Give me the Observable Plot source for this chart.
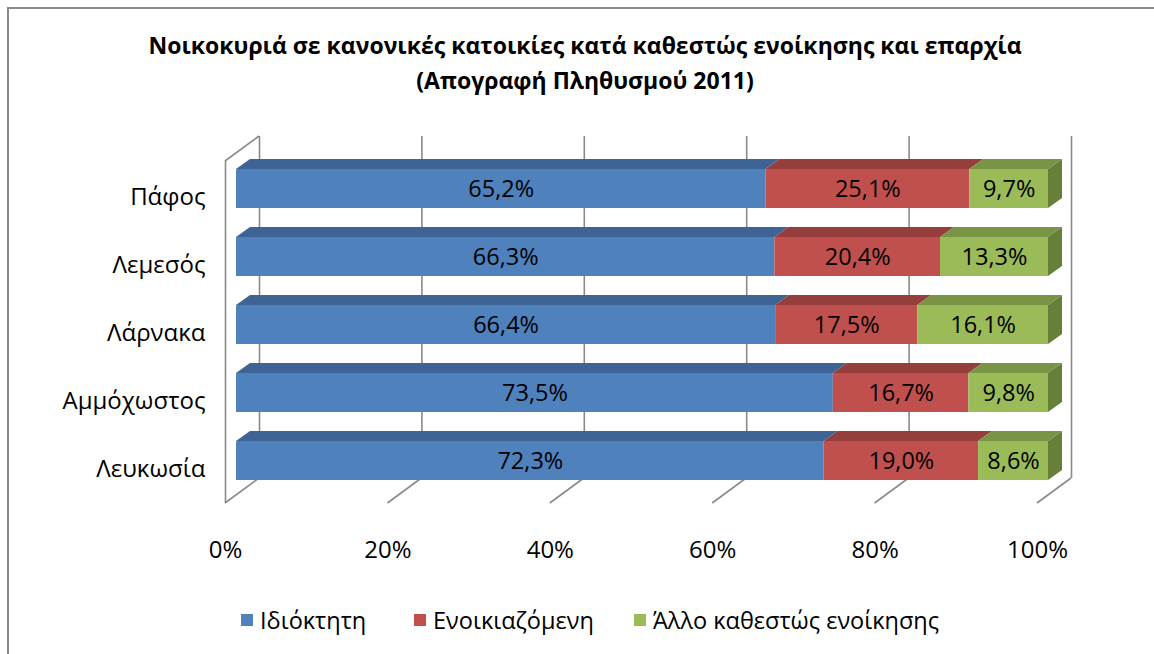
<!DOCTYPE html>
<html><head><meta charset="utf-8">
<script src="https://cdn.jsdelivr.net/npm/d3@7"></script>
<script src="https://cdn.jsdelivr.net/npm/@observablehq/plot@0.6"></script>
<style>
body{margin:0;background:#fff;font-family:"Open Sans",sans-serif;}
#wrap{position:relative;width:1154px;height:654px;overflow:hidden;}
#chart{position:absolute;left:0;top:0;}
#frameTop{position:absolute;left:8px;top:7px;width:1146px;height:0;border-top:2px solid #8a8a8a;}
#frameLeft{position:absolute;left:7px;top:7px;width:0;height:647px;border-left:2px solid #8a8a8a;}
#title{position:absolute;left:0;width:1170px;top:28px;text-align:center;font-weight:bold;font-size:23px;line-height:35px;color:#000;}
.lg{position:absolute;top:606px;height:28px;display:flex;align-items:center;font-size:23.5px;color:#000;white-space:nowrap;}
.lg span.sw{display:inline-block;width:12px;height:12px;margin-right:7px;}
</style></head><body>
<div id="wrap">
<div id="chart"></div>
<div id="frameTop"></div><div id="frameLeft"></div>
<div id="title">Νοικοκυριά σε κανονικές κατοικίες κατά καθεστώς ενοίκησης και επαρχία<br>(Απογραφή Πληθυσμού 2011)</div>
<div id="legend"></div>
</div>
<script>
// ---- data ----
const provinces = ["Πάφος","Λεμεσός","Λάρνακα","Αμμόχωστος","Λευκωσία"];
const series = ["Ιδιόκτητη","Ενοικιαζόμενη","Άλλο καθεστώς ενοίκησης"];
const owned  = [65.2, 66.3, 66.4, 73.5, 72.3];
const rented = [25.1, 20.4, 17.5, 16.7, 19.0];
const other  = [9.7, 13.3, 16.1, 9.8, 8.6];
const xTicks = [0, 0.2, 0.4, 0.6, 0.8, 1];
const xTickLabels = ["0%","20%","40%","60%","80%","100%"];

// ---- style ----
const colors = ["#4F81BD","#C0504D","#9BBB59"];
const topColors = ["#3E6495","#953E3C","#7A9446"];
const sideColors = ["#345480","#7E3331","#66803A"];
const GRID = "#8a8a8a";
const W = 1154, H = 654;
const M = {left:236, right:106, top:153, bottom:159};
const FX = -11, FY = 8;   // front wall plane offset
const BX = 23, BY = -17;  // back wall plane offset
const DX = 14, DY = -10;  // bar depth

const valuesBySeries = [owned, rented, other];
const rows = [];
provinces.forEach((p, i) => series.forEach((s, j) => rows.push({province:p, series:s, value:valuesBySeries[j][i]})));
const fmt = v => v.toFixed(1).replace(".", ",") + "%";

const chart = Plot.plot({
  width: W, height: H,
  marginLeft: M.left, marginRight: M.right, marginTop: M.top, marginBottom: M.bottom,
  x: {domain:[0,1], label:null},
  y: {domain: provinces, paddingInner:0.43, paddingOuter:0.215, label:null},
  color: {domain: series, range: colors},
  style: {fontFamily:"'Open Sans', sans-serif", fontSize:"23px", color:"#000", background:"transparent"},
  marks: [
    Plot.ruleX(xTicks, {x:d=>d, dx:BX, dy:BY, stroke:GRID, strokeWidth:1.6, strokeOpacity:1}),
    Plot.ruleX([0], {x:d=>d, dx:FX, dy:FY, stroke:GRID, strokeWidth:1.6, strokeOpacity:1}),
    Plot.barX(rows, Plot.stackX({x:"value", y:"province", fill:"series", offset:"normalize"})),
    Plot.text(rows, Plot.stackX({x:"value", y:"province", z:"series", offset:"normalize", text:d=>fmt(d.value), fill:"#000", fontSize:23.5})),
    Plot.axisY({tickSize:0, tickPadding:31, dy:FY, fontSize:24, label:null}),
    Plot.axisX({ticks:xTicks, tickFormat:(d,i)=>xTickLabels[i], tickSize:0, tickPadding:37, dx:FX, dy:FY, fontSize:24, label:null})
  ]
});
document.getElementById("chart").appendChild(chart);

// ---- 3D decorations through the plot's own scales ----
const xs = chart.scale("x"), ys = chart.scale("y");
const bw = ys.bandwidth;
const svg = d3.select(chart);
const yTop = M.top, yBot = H - M.bottom;
const behind = svg.insert("g", ":first-child").attr("stroke", GRID).attr("stroke-width", 1.6).attr("fill", "none");
xTicks.forEach(t => {
  const x = xs.apply(t);
  behind.append("line").attr("x1", x+BX).attr("y1", yBot+BY).attr("x2", x+FX).attr("y2", yBot+FY);
});
const x0 = xs.apply(0);
behind.append("line").attr("x1", x0+FX).attr("y1", yTop+FY).attr("x2", x0+BX).attr("y2", yTop+BY);

const faces = svg.append("g");
provinces.forEach((p, i) => {
  const vals = valuesBySeries.map(a => a[i]);
  const total = d3.sum(vals);
  const y0 = ys.apply(p);
  let cum = 0;
  vals.forEach((v, j) => {
    const a = xs.apply(cum/total), b = xs.apply((cum+v)/total);
    cum += v;
    faces.append("polygon")
      .attr("points", [[a,y0],[b,y0],[b+DX,y0+DY],[a+DX,y0+DY]].map(q=>q.join(",")).join(" "))
      .attr("fill", topColors[j]);
    if (j === vals.length-1) {
      faces.append("polygon")
        .attr("points", [[b,y0],[b+DX,y0+DY],[b+DX,y0+bw+DY],[b,y0+bw]].map(q=>q.join(",")).join(" "))
        .attr("fill", sideColors[j]);
    }
  });
});

// ---- legend ----
const legendX = [241, 414, 634];
const lg = document.getElementById("legend");
series.forEach((s, j) => {
  const d = document.createElement("div");
  d.className = "lg";
  d.style.left = legendX[j] + "px";
  d.innerHTML = `<span class="sw" style="background:${colors[j]}"></span>${s}`;
  lg.appendChild(d);
});
</script>
</body></html>
